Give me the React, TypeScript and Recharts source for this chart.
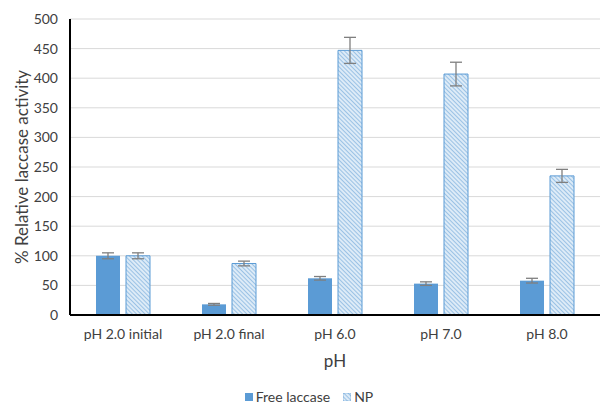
import React from 'react';
import { Bar, BarChart, CartesianGrid, ErrorBar, Legend, XAxis, YAxis } from 'recharts';

const categories = ['pH 2.0 initial', 'pH 2.0 final', 'pH 6.0', 'pH 7.0', 'pH 8.0'];
const freeLaccase = [100, 18, 62, 53, 58];
const freeErr = [5, 1.5, 3, 3, 4];
const np = [100, 87, 447, 407, 235];
const npErr = [5, 4, 22, 20, 11];
const yTicks = [0, 50, 100, 150, 200, 250, 300, 350, 400, 450, 500];

const BLUE = '#5B9BD5';
const FONT = 'Lato, "Open Sans", sans-serif';

const data = categories.map((c, i) => ({
  name: c,
  free: freeLaccase[i], freeErr: freeErr[i],
  np: np[i], npErr: npErr[i],
}));

function LegendBox(){
  return (
    <div style={{display:'flex', justifyContent:'center', gap:13, fontFamily:FONT, fontSize:14, lineHeight:'18px', color:'#404040', paddingLeft:18, paddingBottom:3}}>
      <span style={{display:'flex', alignItems:'center', gap:3}}>
        <svg width={8} height={8}><rect width={8} height={8} fill={BLUE}/></svg>Free laccase
      </span>
      <span style={{display:'flex', alignItems:'center', gap:3}}>
        <svg width={8} height={8}><rect width={8} height={8} fill="url(#npHatch)" stroke={BLUE} strokeWidth={0.5}/></svg>NP
      </span>
    </div>
  );
}

export default function App(){
  return (
    <div style={{position:'absolute', left:0, top:0, width:604, height:409, background:'#fff'}}>
      <BarChart width={604} height={409} data={data} margin={{top:19, right:4, left:0, bottom:0}}
        barSize={24} barGap={6}>
        <defs>
          <pattern id="npHatch" patternUnits="userSpaceOnUse" width={3} height={3} patternTransform="rotate(-45)">
            <rect width={3} height={3} fill="#DDEBF7"/>
            <line x1={0} y1={0} x2={0} y2={3} stroke="#7FB0DE" strokeWidth={1.4}/>
          </pattern>
        </defs>
        <CartesianGrid vertical={false} stroke="#d9d9d9" strokeWidth={1}/>
        <XAxis dataKey="name" axisLine={{stroke:'#000', strokeWidth:2}} tickLine={false}
          tick={{fontSize:14, fill:'#404040', fontFamily:FONT}} height={73} tickMargin={8}
          label={{value:'pH', position:'insideBottom', offset:21, fontSize:17, fill:'#404040', fontFamily:FONT}}/>
        <YAxis domain={[0,500]} ticks={yTicks} width={70} axisLine={{stroke:'#000', strokeWidth:2}} tickLine={false}
          tick={{fontSize:14, fill:'#404040', fontFamily:FONT}} tickMargin={6}
          label={{value:'% Relative laccase activity', angle:-90, position:'insideLeft', offset:22, fontSize:17, fill:'#404040', fontFamily:FONT, style:{textAnchor:'middle'}}}/>
        <Legend verticalAlign="bottom" content={<LegendBox/>}/>
        <Bar dataKey="free" name="Free laccase" fill={BLUE} isAnimationActive={false}>
          <ErrorBar dataKey="freeErr" width={6} stroke="#7f7f7f" strokeWidth={1.3}/>
        </Bar>
        <Bar dataKey="np" name="NP" fill="url(#npHatch)" stroke={BLUE} strokeWidth={1} isAnimationActive={false}>
          <ErrorBar dataKey="npErr" width={6} stroke="#7f7f7f" strokeWidth={1.3}/>
        </Bar>
      </BarChart>
    </div>
  );
}
